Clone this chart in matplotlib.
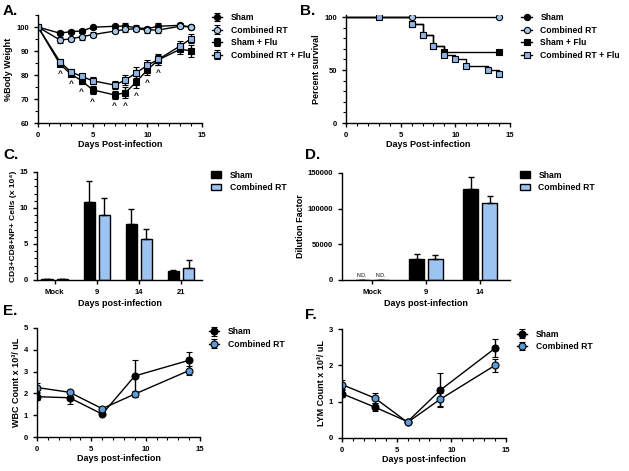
import matplotlib
matplotlib.use('Agg')
import matplotlib.pyplot as plt
import numpy as np
from matplotlib.ticker import MultipleLocator

plt.rcParams['font.family'] = ['Liberation Sans', 'DejaVu Sans']
plt.rcParams['font.weight'] = 'bold'
plt.rcParams['axes.labelweight'] = 'bold'
plt.rcParams['axes.linewidth'] = 1.0
plt.rcParams['xtick.major.width'] = 1.0
plt.rcParams['ytick.major.width'] = 1.0
plt.rcParams['xtick.minor.width'] = 0.8
plt.rcParams['ytick.minor.width'] = 0.8

BLUE_SQ = '#8db6e6'
BLUE_CI = '#a4c6ea'
BLUE_BAR = '#9cc4f2'
BLUE_EF = '#5b9bd8'

# --- A: body weight
days_a = [0, 2, 3, 4, 5, 7, 8, 9, 10, 11, 13, 14]
sham_a = [100, 97.4, 98.1, 98.3, 99.9, 100.3, 100.4, 99.7, 99.3, 100.3, 100.7, 100]
sham_a_err = [0, 0.8, 0.6, 0.8, 0.6, 0.6, 1.2, 1.0, 0.9, 1.2, 0.9, 0.6]
rt_a = [100, 94.6, 95.0, 96.0, 96.8, 98.3, 99.0, 99.3, 98.75, 98.75, 100.3, 100]
rt_a_err = [0, 1.2, 0.8, 1.3, 1.0, 0.9, 1.0, 0.8, 1.2, 1.1, 0.8, 0.8]
shamflu_a = [100, 84.6, 80.4, 77.6, 73.8, 71.7, 72.6, 77.2, 82.1, 86.3, 90.7, 90.1]
shamflu_a_err = [0, 1.0, 1.0, 1.3, 1.6, 1.5, 2.2, 2.8, 2.0, 2.2, 2.0, 2.4]
rtflu_a = [100, 85.6, 81.3, 79.4, 77.6, 75.8, 77.9, 81.0, 84.0, 86.5, 92.1, 95.1]
rtflu_a_err = [0, 1.0, 1.0, 1.2, 1.4, 1.5, 2.0, 2.2, 2.2, 2.2, 2.0, 1.8]
caret_days = [2, 3, 4, 5, 7, 8, 9, 10, 11]

# --- B: survival
surv_days_rt = [0, 3, 6, 14]
surv_rt = [100, 100, 100, 100]
surv_days_shamflu = [0, 6, 7, 8, 9, 14]
surv_shamflu = [100, 93.3, 83, 72.5, 67.5, 67.5]
surv_days_rtflu = [0, 3, 6, 7, 8, 9, 10, 11, 13, 14]
surv_rtflu = [100, 100, 93.3, 83, 72.5, 64.5, 60.5, 53.5, 50, 46.5]

# --- C: CD3+CD8+NP+ cells
groups_c = ['Mock', '9', '14', '21']
sham_c = [0.1, 10.9, 7.8, 1.25]
sham_c_err = [0, 2.8, 2.0, 0.15]
rt_c = [0.1, 9.0, 5.7, 1.7]
rt_c_err = [0, 2.4, 1.4, 1.1]

# --- D: dilution factor
groups_d = ['Mock', '9', '14']
sham_d = [0, 29000, 127000]
sham_d_err = [0, 8000, 18000]
rt_d = [0, 30000, 108000]
rt_d_err = [0, 5000, 10000]

# --- E: WBC
days_e = [0, 3, 6, 9, 14]
sham_e = [1.85, 1.8, 1.05, 2.8, 3.52]
sham_e_err = [0.15, 0.3, 0.05, 0.72, 0.4]
rt_e = [2.27, 2.05, 1.3, 1.97, 3.05]
rt_e_err = [0.22, 0.06, 0.05, 0.12, 0.22]

# --- F: LYM
sham_f = [1.22, 0.85, 0.45, 1.32, 2.47]
sham_f_err = [0.1, 0.12, 0.03, 0.48, 0.25]
rt_f = [1.47, 1.1, 0.43, 1.07, 2.0]
rt_f_err = [0.13, 0.15, 0.03, 0.18, 0.17]

fig = plt.figure(figsize=(6.29, 4.71), dpi=100)

LAB = 6.5
TICK = 5.5
LEG = 6.2


def style(ax):
    for s in ['top', 'right']:
        ax.spines[s].set_visible(False)
    ax.tick_params(labelsize=TICK, length=3, width=1)
    ax.tick_params(which='minor', length=2)
    for t in ax.get_xticklabels() + ax.get_yticklabels():
        t.set_fontweight('bold')


def legend(ax, x, y, handles=None, labels=None):
    args = [] if handles is None else [handles, labels]
    ax.legend(*args, loc='upper left', bbox_to_anchor=(x, y), bbox_transform=fig.transFigure,
              frameon=False, prop={'size': LEG, 'weight': 'bold'}, handlelength=1.2,
              handletextpad=1.0, labelspacing=0.4, borderpad=0, borderaxespad=0)


def pos(l, t, r, b):
    W, H = 629, 471
    return [l / W, 1 - b / H, (r - l) / W, (b - t) / H]


# Panel A
ax = fig.add_axes(pos(38, 15, 202, 123))
ekw = dict(elinewidth=1, capsize=2.5, capthick=1, lw=1, color='black', mec='black', mew=0.8, ms=4.5)
ax.errorbar(days_a, sham_a, yerr=sham_a_err, marker='o', mfc='black', label='Sham', **ekw)
ax.errorbar(days_a, rt_a, yerr=rt_a_err, marker='o', mfc=BLUE_CI, label='Combined RT', **ekw)
ax.errorbar(days_a, shamflu_a, yerr=shamflu_a_err, marker='s', mfc='black', label='Sham + Flu', **ekw)
ax.errorbar(days_a, rtflu_a, yerr=rtflu_a_err, marker='s', mfc=BLUE_SQ, label='Combined RT + Flu', **ekw)
for d in caret_days:
    i = days_a.index(d)
    low = min(shamflu_a[i] - shamflu_a_err[i], rtflu_a[i] - rtflu_a_err[i])
    ax.text(d, low - 2.0, '^', ha='center', va='top', fontsize=6, fontweight='bold')
ax.set_xlim(0, 15)
ax.set_ylim(60, 105)
ax.set_yticks([60, 70, 80, 90, 100])
ax.set_xticks([0, 5, 10, 15])
ax.xaxis.set_minor_locator(MultipleLocator(1))
ax.yaxis.set_minor_locator(MultipleLocator(5))
ax.set_xlabel('Days Post-infection', fontsize=LAB, labelpad=1)
ax.set_ylabel('%Body Weight', fontsize=LAB, labelpad=2)
style(ax)
legend(ax, 0.337, 0.972)

# Panel B
ax = fig.add_axes(pos(346, 15, 510, 123))
mk = dict(ms=4.5, mec='black', mew=0.8)
ax.step(surv_days_rt, surv_rt, where='post', color='black', lw=1)
ax.step(surv_days_shamflu, surv_shamflu, where='post', color='black', lw=1)
ax.step(surv_days_rtflu, surv_rtflu, where='post', color='black', lw=1)
ax.plot(surv_days_shamflu[1:], surv_shamflu[1:], ls='none', marker='s', mfc='black', **mk)
ax.plot(surv_days_rtflu[1:], surv_rtflu[1:], ls='none', marker='s', mfc=BLUE_SQ, **mk)
ax.plot(surv_days_rt[2:], surv_rt[2:], ls='none', marker='o', mfc=BLUE_CI, **mk)
h = [ax.plot([], [], color='black', lw=1, marker=m, mfc=c, **mk)[0]
     for m, c in [('o', 'black'), ('o', BLUE_CI), ('s', 'black'), ('s', BLUE_SQ)]]
ax.set_xlim(0, 15)
ax.set_ylim(0, 102)
ax.set_yticks([0, 50, 100])
ax.set_xticks([0, 5, 10, 15])
ax.xaxis.set_minor_locator(MultipleLocator(1))
ax.yaxis.set_minor_locator(MultipleLocator(10))
ax.set_xlabel('Days Post-infection', fontsize=LAB, labelpad=1)
ax.set_ylabel('Percent survival', fontsize=LAB, labelpad=2)
style(ax)
legend(ax, 0.829, 0.972, h, ['Sham', 'Combined RT', 'Sham + Flu', 'Combined RT + Flu'])

# Panel C
ax = fig.add_axes(pos(37, 172, 202, 280))
x = np.arange(len(groups_c))
bw = 0.27
off = 0.18
ax.bar(x - off, sham_c, bw, color='black', edgecolor='black', lw=1, label='Sham',
       yerr=[[0] * len(x), sham_c_err], error_kw=dict(elinewidth=1, capsize=2.5, capthick=1))
ax.bar(x + off, rt_c, bw, color=BLUE_BAR, edgecolor='black', lw=1, label='Combined RT',
       yerr=[[0] * len(x), rt_c_err], error_kw=dict(elinewidth=1, capsize=2.5, capthick=1))
ax.set_xlim(-0.42, 3.5)
ax.set_ylim(0, 15)
ax.set_yticks([0, 5, 10, 15])
ax.yaxis.set_minor_locator(MultipleLocator(1))
ax.set_xticks(x)
ax.set_xticklabels(groups_c)
ax.set_xlabel('Days post-infection', fontsize=LAB, labelpad=2)
ax.set_ylabel('CD3+CD8+NP+ Cells (x 10\u2074)', fontsize=6, labelpad=2)
style(ax)
legend(ax, 0.335, 0.638)

# Panel D
ax = fig.add_axes(pos(342, 173, 510, 280))
x = np.arange(len(groups_d))
bw = 0.28
off = 0.175
ax.bar(x - off, sham_d, bw, color='black', edgecolor='black', lw=1, label='Sham',
       yerr=[[0] * len(x), sham_d_err], error_kw=dict(elinewidth=1, capsize=2.5, capthick=1))
ax.bar(x + off, rt_d, bw, color=BLUE_BAR, edgecolor='black', lw=1, label='Combined RT',
       yerr=[[0] * len(x), rt_d_err], error_kw=dict(elinewidth=1, capsize=2.5, capthick=1))
for v, xx in zip([sham_d[0], rt_d[0]], [x[0] - off, x[0] + off]):
    ax.text(xx, v + 2500, 'N.D.', ha='center', va='bottom', fontsize=3.8, fontweight='normal')
ax.set_xlim(-0.55, 2.55)
ax.set_ylim(0, 150000)
ax.set_yticks([0, 50000, 100000, 150000])
ax.set_xticks(x)
ax.set_xticklabels(groups_d)
ax.set_xlabel('Days post-infection', fontsize=LAB, labelpad=2)
ax.set_ylabel('Dilution Factor', fontsize=LAB, labelpad=2)
style(ax)
legend(ax, 0.826, 0.638)

# Panel E
ax = fig.add_axes(pos(37, 328, 200, 437))
ekw = dict(elinewidth=1, capsize=2.5, capthick=1, lw=1, color='black', mec='black', mew=0.8, ms=5)
ax.errorbar(days_e, sham_e, yerr=sham_e_err, marker='o', mfc='black', label='Sham', **ekw)
ax.errorbar(days_e, rt_e, yerr=rt_e_err, marker='o', mfc=BLUE_EF, label='Combined RT', **ekw)
ax.set_xlim(0, 15)
ax.set_ylim(0, 5)
ax.set_xticks([0, 5, 10, 15])
ax.xaxis.set_minor_locator(MultipleLocator(1))
ax.set_xlabel('Days post-infection', fontsize=LAB, labelpad=1)
ax.set_ylabel('WBC Count x 10\u00b3/ uL', fontsize=LAB, labelpad=2)
style(ax)
legend(ax, 0.332, 0.305)

# Panel F
ax = fig.add_axes(pos(342, 329, 506, 438))
ax.errorbar(days_e, sham_f, yerr=sham_f_err, marker='o', mfc='black', label='Sham', **ekw)
ax.errorbar(days_e, rt_f, yerr=rt_f_err, marker='o', mfc=BLUE_EF, label='Combined RT', **ekw)
ax.set_xlim(0, 15)
ax.set_ylim(0, 3)
ax.set_xticks([0, 5, 10, 15])
ax.set_yticks([0, 1, 2, 3])
ax.xaxis.set_minor_locator(MultipleLocator(1))
ax.set_xlabel('Days post-infection', fontsize=LAB, labelpad=1)
ax.set_ylabel('LYM Count x 10\u00b3/ uL', fontsize=LAB, labelpad=2)
style(ax)
legend(ax, 0.822, 0.300)

# panel letters
for lab, px, py in [('A.', 3, 4), ('B.', 300, 4), ('C.', 3, 148), ('D.', 305, 148),
                    ('E.', 3, 304), ('F.', 305, 308)]:
    fig.text(px / 629, 1 - py / 471, lab, fontsize=11, fontweight='bold', va='top', ha='left')

fig.savefig('out.png', dpi=100)
